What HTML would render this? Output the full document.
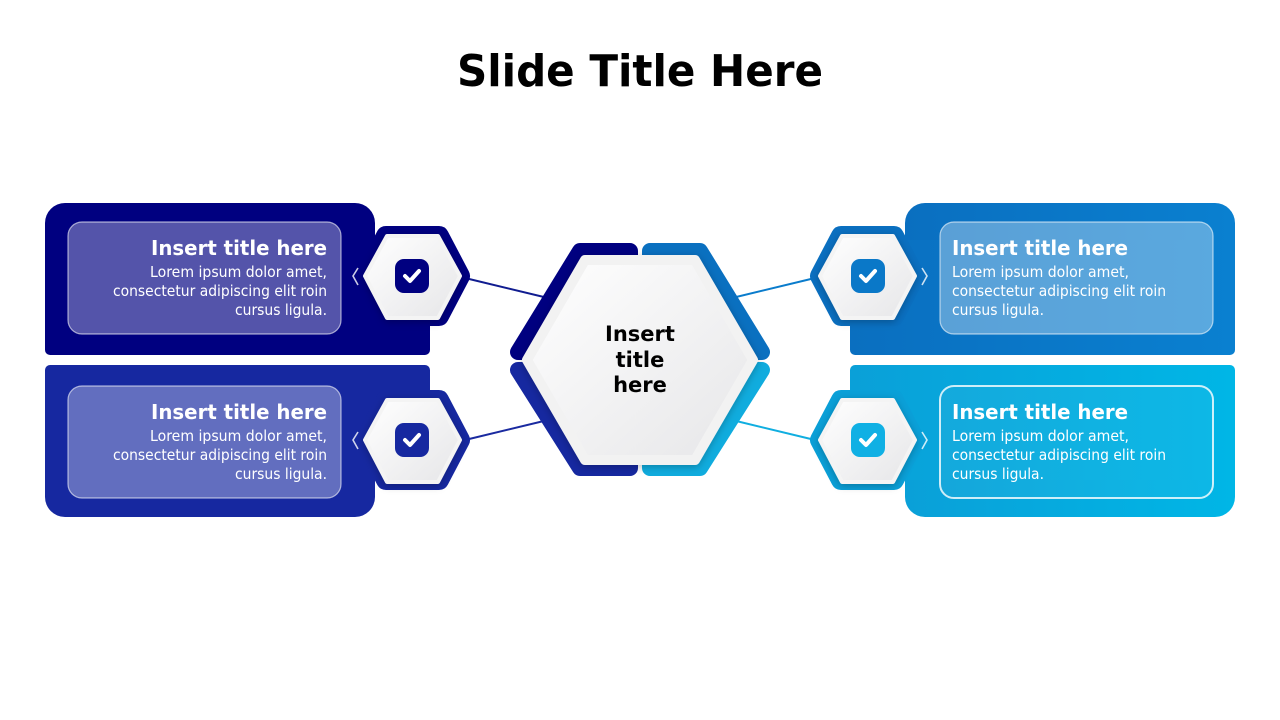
<!DOCTYPE html>
<html><head><meta charset="utf-8"><style>
html,body{margin:0;padding:0;background:#fff;}
svg{display:block;}
text{font-family:"DejaVu Sans","Liberation Sans",sans-serif;}
</style></head><body>
<svg width="1280" height="720" viewBox="0 0 1280 720" xmlns="http://www.w3.org/2000/svg">
<defs>
<linearGradient id="wg" x1="0" y1="0" x2="1" y2="1"><stop offset="0" stop-color="#ffffff"/><stop offset="1" stop-color="#e6e6e8"/></linearGradient>
<linearGradient id="gTR" x1="0" y1="0" x2="1" y2="0"><stop offset="0" stop-color="#0a6fc0"/><stop offset="1" stop-color="#0a80d0"/></linearGradient>
<linearGradient id="gBR" x1="0" y1="0" x2="1" y2="0"><stop offset="0" stop-color="#0aa0d8"/><stop offset="1" stop-color="#00b6e6"/></linearGradient>
<filter id="sh" x="-30%" y="-30%" width="160%" height="160%"><feDropShadow dx="0" dy="2" stdDeviation="4" flood-color="#000" flood-opacity="0.25"/></filter>
</defs>

<text x="640" y="86" text-anchor="middle" font-size="44" font-weight="bold" fill="#000" textLength="366" lengthAdjust="spacingAndGlyphs">Slide Title Here</text>

<g stroke-width="2">
<line x1="465" y1="278" x2="548" y2="298" stroke="#101c90"/>
<line x1="465" y1="440" x2="548" y2="420" stroke="#1a2aa0"/>
<line x1="732" y1="298" x2="815" y2="278" stroke="#0a7ccc"/>
<line x1="732" y1="420" x2="815" y2="440" stroke="#10aee0"/>
</g>

<g fill="#000080">
<rect x="45" y="203" width="330" height="152" rx="20"/>
<rect x="45" y="240" width="385" height="115" rx="5"/>
<polygon points="365,276 386,236 439,236 460,276 439,316 386,316" stroke="#000080" stroke-width="20" stroke-linejoin="round"/>
</g>
<g fill="#1628a0">
<rect x="45" y="365" width="330" height="152" rx="20"/>
<rect x="45" y="365" width="385" height="115" rx="5"/>
<polygon points="365,440 386,400 439,400 460,440 439,480 386,480" stroke="#1628a0" stroke-width="20" stroke-linejoin="round"/>
</g>
<g fill="url(#gTR)">
<rect x="905" y="203" width="330" height="152" rx="20"/>
<rect x="850" y="240" width="385" height="115" rx="5"/>
<polygon points="820,276 841,236 894,236 915,276 894,316 841,316" stroke="#0a6fc0" stroke-width="20" stroke-linejoin="round" fill="#0a6fc0"/>
</g>
<g fill="url(#gBR)">
<rect x="905" y="365" width="330" height="152" rx="20"/>
<rect x="850" y="365" width="385" height="115" rx="5"/>
<polygon points="820,440 841,400 894,400 915,440 894,480 841,480" stroke="#0aa0d8" stroke-width="20" stroke-linejoin="round" fill="#0aa0d8"/>
</g>

<rect x="68" y="222" width="273" height="112" rx="14" fill="#ffffff" fill-opacity="0.33" stroke="#fff" stroke-opacity="0.6" stroke-width="1.2"/>
<rect x="68" y="386" width="273" height="112" rx="14" fill="#ffffff" fill-opacity="0.33" stroke="#fff" stroke-opacity="0.6" stroke-width="1.2"/>
<rect x="940" y="222" width="273" height="112" rx="14" fill="#ffffff" fill-opacity="0.33" stroke="#fff" stroke-opacity="0.6" stroke-width="1.2"/>
<rect x="940" y="386" width="273" height="112" rx="14" fill="#ffffff" fill-opacity="0.05" stroke="#fff" stroke-opacity="0.8" stroke-width="2"/>

<g fill="#fff">
<g text-anchor="end">
<text x="327" y="255" font-size="20" font-weight="bold" textLength="176" lengthAdjust="spacingAndGlyphs">Insert title here</text>
<text x="327" y="277" font-size="15" textLength="177" lengthAdjust="spacingAndGlyphs">Lorem ipsum dolor amet,</text>
<text x="327" y="296" font-size="15" textLength="214" lengthAdjust="spacingAndGlyphs">consectetur adipiscing elit roin</text>
<text x="327" y="315" font-size="15" textLength="92" lengthAdjust="spacingAndGlyphs">cursus ligula.</text>
<text x="327" y="419" font-size="20" font-weight="bold" textLength="176" lengthAdjust="spacingAndGlyphs">Insert title here</text>
<text x="327" y="441" font-size="15" textLength="177" lengthAdjust="spacingAndGlyphs">Lorem ipsum dolor amet,</text>
<text x="327" y="460" font-size="15" textLength="214" lengthAdjust="spacingAndGlyphs">consectetur adipiscing elit roin</text>
<text x="327" y="479" font-size="15" textLength="92" lengthAdjust="spacingAndGlyphs">cursus ligula.</text>
</g>
<text x="952" y="255" font-size="20" font-weight="bold" textLength="176" lengthAdjust="spacingAndGlyphs">Insert title here</text>
<text x="952" y="277" font-size="15" textLength="177" lengthAdjust="spacingAndGlyphs">Lorem ipsum dolor amet,</text>
<text x="952" y="296" font-size="15" textLength="214" lengthAdjust="spacingAndGlyphs">consectetur adipiscing elit roin</text>
<text x="952" y="315" font-size="15" textLength="92" lengthAdjust="spacingAndGlyphs">cursus ligula.</text>
<text x="952" y="419" font-size="20" font-weight="bold" textLength="176" lengthAdjust="spacingAndGlyphs">Insert title here</text>
<text x="952" y="441" font-size="15" textLength="177" lengthAdjust="spacingAndGlyphs">Lorem ipsum dolor amet,</text>
<text x="952" y="460" font-size="15" textLength="214" lengthAdjust="spacingAndGlyphs">consectetur adipiscing elit roin</text>
<text x="952" y="479" font-size="15" textLength="92" lengthAdjust="spacingAndGlyphs">cursus ligula.</text>
</g>

<g fill="none" stroke="#fff" stroke-opacity="0.8" stroke-width="1.6">
<polyline points="358,268 353,276 358,285"/>
<polyline points="358,432 353,440 358,449"/>
<polyline points="922,268 927,276 922,285"/>
<polyline points="922,432 927,440 922,449"/>
</g>

<g filter="url(#sh)" fill="url(#wg)" stroke-linejoin="round">
<polygon points="365,276 387,236 438,236 460,276 438,318 387,318" stroke="#f4f4f4" stroke-width="4"/>
<polygon points="365,440 387,400 438,400 460,440 438,482 387,482" stroke="#f4f4f4" stroke-width="4"/>
<polygon points="820,276 842,236 893,236 915,276 893,318 842,318" stroke="#f4f4f4" stroke-width="4"/>
<polygon points="820,440 842,400 893,400 915,440 893,482 842,482" stroke="#f4f4f4" stroke-width="4"/>
</g>
<rect x="395" y="259" width="34" height="34" rx="9" fill="#000080"/>
<rect x="395" y="423" width="34" height="34" rx="9" fill="#1628a0"/>
<rect x="851" y="259" width="34" height="34" rx="9" fill="#0a78c8"/>
<rect x="851" y="423" width="34" height="34" rx="9" fill="#10b0e4"/>
<g fill="none" stroke="#fff" stroke-width="4" stroke-linecap="round" stroke-linejoin="round">
<polyline points="405,276 410,281 419,271"/>
<polyline points="405,440 410,445 419,435"/>
<polyline points="861,276 866,281 875,271"/>
<polyline points="861,440 866,445 875,435"/>
</g>

<g stroke-linejoin="round" stroke-width="16">
<polygon points="518,352 580,251 630,251 630,352" fill="#000080" stroke="#000080"/>
<polygon points="650,251 700,251 762,352 650,352" fill="#0a70c0" stroke="#0a70c0"/>
<polygon points="518,370 630,370 630,468 580,468" fill="#1628a0" stroke="#1628a0"/>
<polygon points="650,370 762,370 700,468 650,468" fill="#10acde" stroke="#10acde"/>
</g>
<polygon points="527,360 585,260 695,260 753,360 695,460 585,460" fill="url(#wg)" stroke="#f2f2f2" stroke-width="10" stroke-linejoin="round" filter="url(#sh)"/>
<g font-size="21" font-weight="bold" fill="#000" text-anchor="middle">
<text x="640" y="341">Insert</text>
<text x="640" y="367">title</text>
<text x="640" y="392">here</text>
</g>
</svg>
</body></html>
